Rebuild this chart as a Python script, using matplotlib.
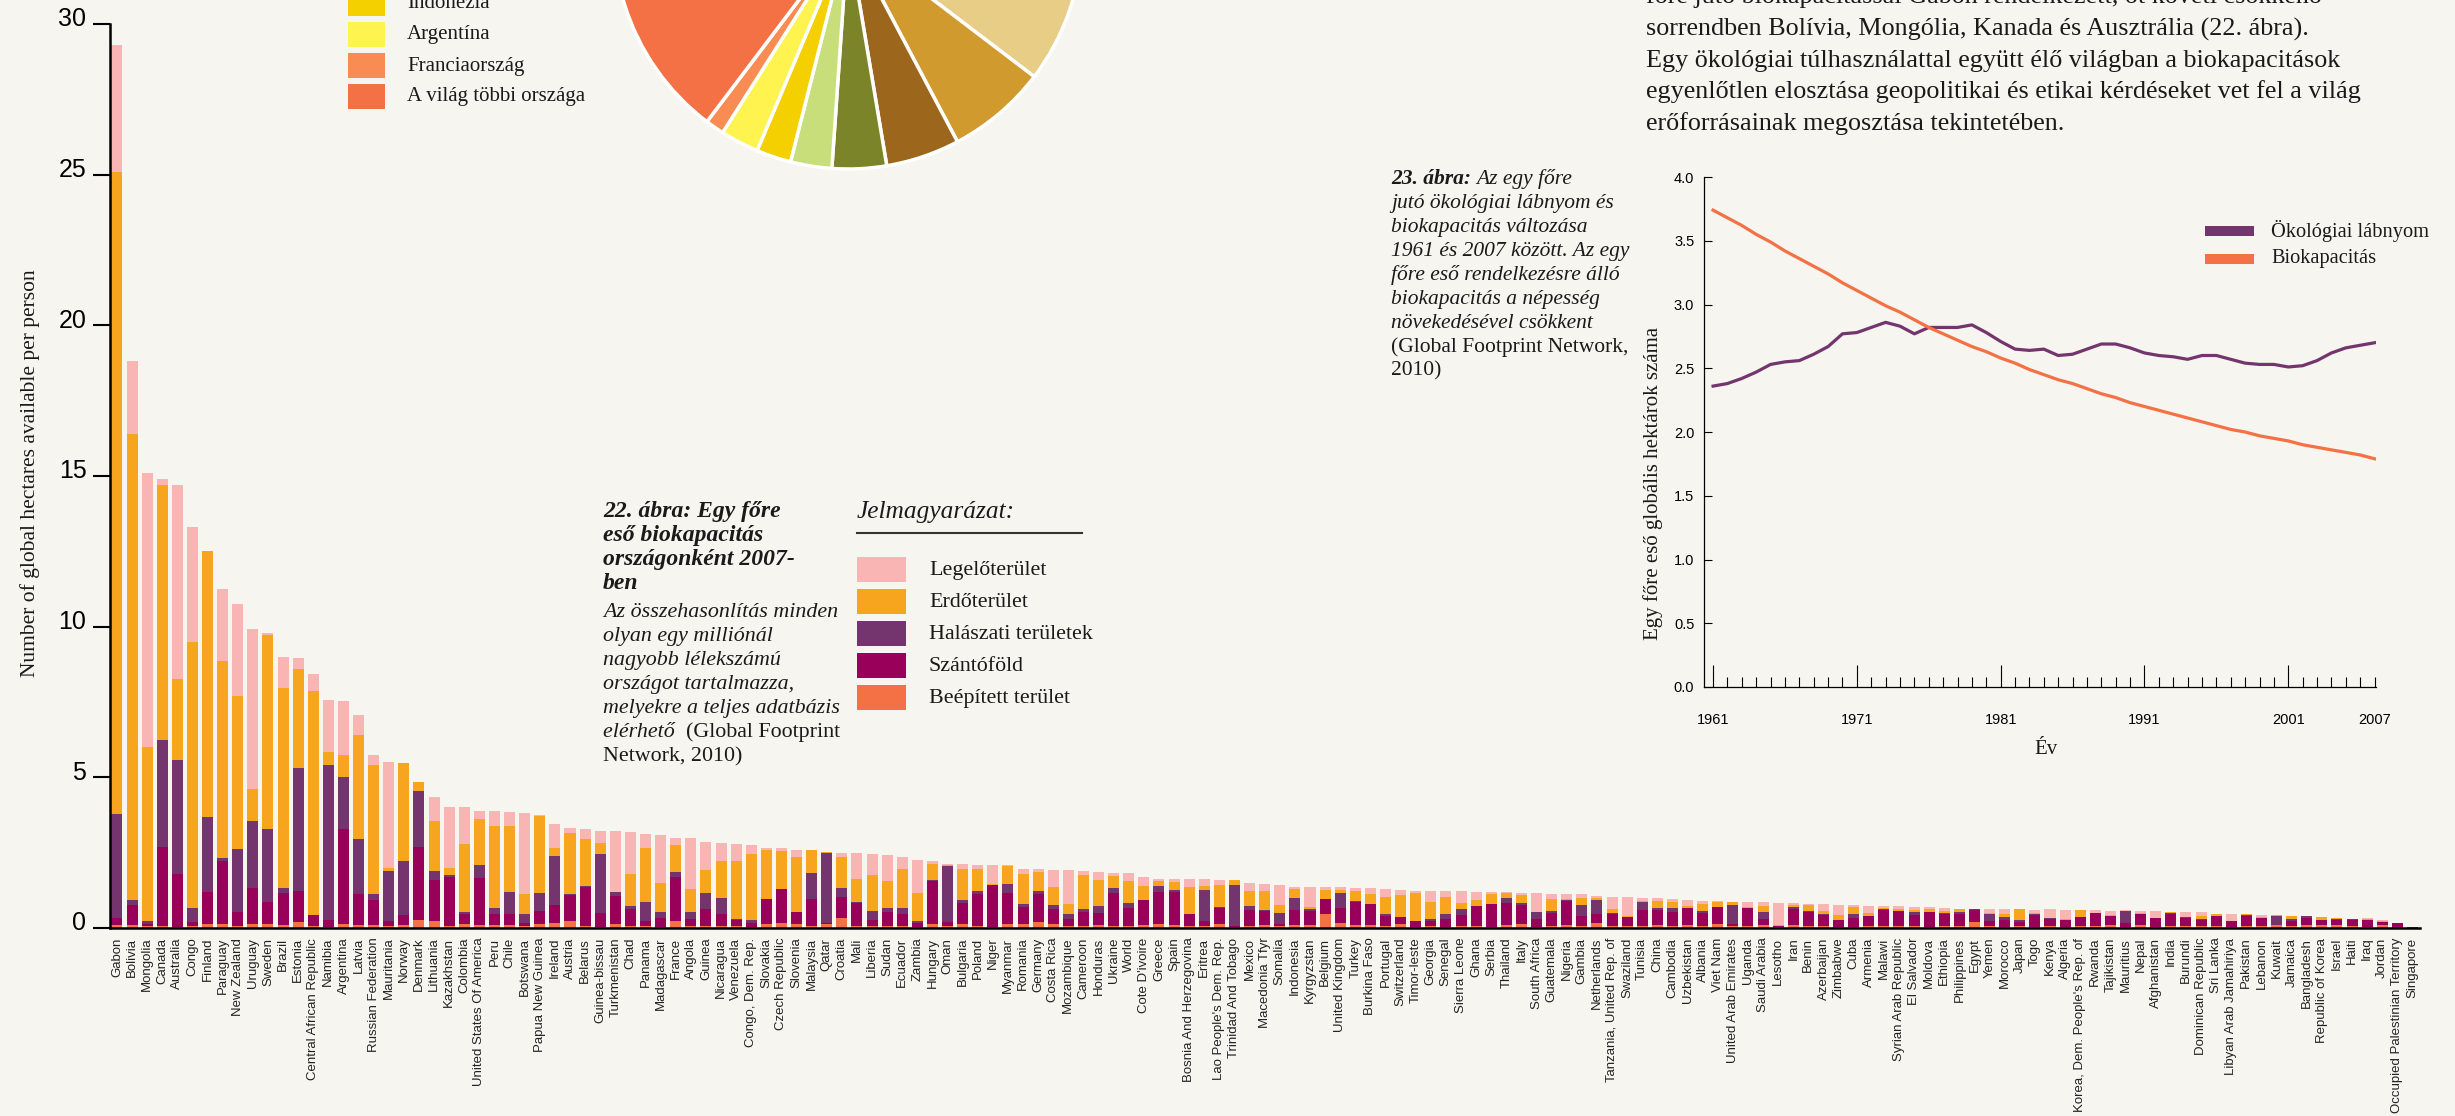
import numpy as np
import matplotlib
matplotlib.use('Agg')
import matplotlib.pyplot as plt
from matplotlib.patches import Rectangle
from matplotlib.ticker import FixedLocator
from matplotlib.transforms import ScaledTranslation

W, H = 2455, 1116
BG = '#f6f5ef'
INK = '#1a1a1a'
SERIF = 'Liberation Serif'
SANS = 'Liberation Sans'

# ---- 22. abra: biocapacity per person by country (tops of the stacked layers)
countries = [
    "Gabon", "Bolivia", "Mongolia", "Canada", "Australia", "Congo", "Finland", "Paraguay",
    "New Zealand", "Uruguay", "Sweden", "Brazil", "Estonia", "Central African Republic",
    "Namibia", "Argentina", "Latvia", "Russian Federation", "Mauritania", "Norway", "Denmark",
    "Lithuania", "Kazakhstan", "Colombia", "United States Of America", "Peru", "Chile",
    "Botswana", "Papua New Guinea", "Ireland", "Austria", "Belarus", "Guinea-bissau",
    "Turkmenistan", "Chad", "Panama", "Madagascar", "France", "Angola", "Guinea", "Nicaragua",
    "Venezuela", "Congo, Dem. Rep.", "Slovakia", "Czech Republic", "Slovenia", "Malaysia",
    "Qatar", "Croatia", "Mali", "Liberia", "Sudan", "Ecuador", "Zambia", "Hungary", "Oman",
    "Bulgaria", "Poland", "Niger", "Myanmar", "Romania", "Germany", "Costa Rica", "Mozambique",
    "Cameroon", "Honduras", "Ukraine", "World", "Cote D'ivoire", "Greece", "Spain",
    "Bosnia And Herzegovina", "Eritrea", "Lao People's Dem. Rep.", "Trinidad And Tobago",
    "Mexico", "Macedonia Tfyr", "Somalia", "Indonesia", "Kyrgyzstan", "Belgium",
    "United Kingdom", "Turkey", "Burkina Faso", "Portugal", "Switzerland", "Timor-leste",
    "Georgia", "Senegal", "Sierra Leone", "Ghana", "Serbia", "Thailand", "Italy",
    "South Africa", "Guatemala", "Nigeria", "Gambia", "Netherlands", "Tanzania, United Rep. of",
    "Swaziland", "Tunisia", "China", "Cambodia", "Uzbekistan", "Albania", "Viet Nam",
    "United Arab Emirates", "Uganda", "Saudi Arabia", "Lesotho", "Iran", "Benin", "Azerbaijan",
    "Zimbabwe", "Cuba", "Armenia", "Malawi", "Syrian Arab Republic", "El Salvador", "Moldova",
    "Ethiopia", "Philippines", "Egypt", "Yemen", "Morocco", "Japan", "Togo", "Kenya", "Algeria",
    "Korea, Dem. People's Rep. of", "Rwanda", "Tajikistan", "Mauritius", "Nepal", "Afghanistan",
    "India", "Burundi", "Dominican Republic", "Sri Lanka", "Libyan Arab Jamahiriya", "Pakistan",
    "Lebanon", "Kuwait", "Jamaica", "Bangladesh", "Republic of Korea", "Israel", "Haiti", "Iraq",
    "Jordan", "Occupied Palestinian Territory", "Singapore",
]

built_top = [
    0.1, 0.1, 0.05, 0.05, 0.03, 0.07, 0.12, 0.12, 0.05, 0.12, 0.12, 0.1, 0.19, 0.05, 0.03, 0.12,
    0.1, 0.1, 0.05, 0.1, 0.28, 0.24, 0.07, 0.12, 0.1, 0.1, 0.1, 0.05, 0.14, 0.17, 0.23, 0.08,
    0.04, 0.14, 0.08, 0.05, 0.04, 0.23, 0.05, 0.08, 0.05, 0.05, 0.04, 0.14, 0.17, 0.14, 0.08,
    0.12, 0.34, 0.08, 0.05, 0.05, 0.08, 0.04, 0.14, 0.08, 0.12, 0.08, 0.04, 0.12, 0.12, 0.19,
    0.12, 0.06, 0.06, 0.09, 0.06, 0.06, 0.09, 0.12, 0.09, 0.06, 0.06, 0.12, 0.03, 0.06, 0.09,
    0.06, 0.09, 0.09, 0.45, 0.16, 0.09, 0.09, 0.06, 0.12, 0.03, 0.06, 0.03, 0.07, 0.07, 0.02,
    0.1, 0.13, 0.03, 0.07, 0.1, 0.07, 0.17, 0.07, 0.07, 0.07, 0.1, 0.07, 0.1, 0.07, 0.13, 0.07,
    0.07, 0.1, 0.03, 0.1, 0.07, 0.07, 0.03, 0.03, 0.07, 0.07, 0.07, 0.07, 0.03, 0.07, 0.07,
    0.19, 0.07, 0.03, 0.07, 0.03, 0.07, 0.03, 0.07, 0.07, 0.1, 0.03, 0.1, 0.03, 0.07, 0.07,
    0.07, 0.07, 0.03, 0.07, 0.07, 0.1, 0.07, 0.1, 0.1, 0.1, 0.07, 0.03, 0.1, 0.01, 0.01,
]
crop_top = [
    0.33, 0.75, 0.12, 2.69, 1.79, 0.19, 1.18, 2.24, 0.52, 1.32, 0.85, 1.16, 1.23, 0.42, 0.26,
    3.3, 1.13, 0.92, 0.24, 0.42, 2.69, 1.58, 1.7, 0.45, 1.65, 0.45, 0.45, 0.17, 0.57, 0.77,
    1.11, 1.36, 0.51, 1.07, 0.64, 0.23, 0.34, 1.7, 0.29, 0.64, 0.47, 0.25, 0.18, 0.97, 1.31,
    0.54, 0.97, 0.17, 1.03, 0.84, 0.27, 0.54, 0.47, 0.17, 1.57, 0.21, 0.84, 1.14, 1.42, 1.16,
    0.7, 1.12, 0.62, 0.29, 0.52, 0.49, 1.15, 0.65, 0.92, 1.18, 1.18, 0.45, 0.22, 0.65, 0.06,
    0.59, 0.55, 0.12, 0.59, 0.55, 0.95, 0.65, 0.85, 0.79, 0.39, 0.35, 0.22, 0.22, 0.29, 0.43,
    0.72, 0.8, 0.83, 0.76, 0.3, 0.5, 0.91, 0.4, 0.47, 0.47, 0.37, 0.6, 0.6, 0.53, 0.66, 0.5,
    0.7, 0.13, 0.66, 0.3, 0.07, 0.63, 0.54, 0.43, 0.27, 0.33, 0.4, 0.6, 0.56, 0.43, 0.52, 0.45,
    0.45, 0.6, 0.22, 0.25, 0.19, 0.43, 0.3, 0.25, 0.35, 0.49, 0.39, 0.16, 0.45, 0.32, 0.47,
    0.33, 0.28, 0.39, 0.22, 0.4, 0.32, 0.1, 0.23, 0.32, 0.25, 0.27, 0.27, 0.25, 0.19, 0.16, 0.01,
]
fish_top = [
    3.77, 0.94, 0.24, 6.25, 5.57, 0.68, 3.7, 2.31, 2.62, 3.56, 3.28, 1.32, 5.31, 0.43, 5.42,
    5.0, 2.97, 1.13, 1.89, 2.22, 4.53, 1.89, 1.75, 0.52, 2.08, 0.68, 1.18, 0.48, 1.17, 2.4,
    1.12, 1.38, 2.47, 1.2, 0.74, 0.87, 0.54, 1.87, 0.54, 1.17, 1.0, 0.31, 0.25, 0.97, 1.31,
    0.54, 1.84, 2.49, 1.33, 0.87, 0.57, 0.67, 0.67, 0.22, 1.59, 2.06, 0.94, 1.24, 1.44, 1.45,
    0.79, 1.22, 0.75, 0.45, 0.62, 0.72, 1.32, 0.82, 0.92, 1.38, 1.25, 0.45, 1.25, 0.7, 1.42,
    0.72, 0.59, 0.49, 0.99, 0.62, 0.95, 1.15, 0.89, 0.79, 0.45, 0.35, 0.24, 0.29, 0.45, 0.63,
    0.74, 0.8, 1.0, 0.83, 0.53, 0.56, 0.93, 0.76, 0.93, 0.5, 0.38, 0.86, 0.66, 0.66, 0.66, 0.56,
    0.7, 0.76, 0.66, 0.53, 0.08, 0.7, 0.58, 0.47, 0.27, 0.47, 0.4, 0.63, 0.56, 0.53, 0.52, 0.49,
    0.52, 0.62, 0.45, 0.35, 0.25, 0.45, 0.32, 0.28, 0.35, 0.49, 0.39, 0.56, 0.45, 0.32, 0.49,
    0.35, 0.29, 0.39, 0.23, 0.42, 0.34, 0.39, 0.29, 0.39, 0.25, 0.29, 0.29, 0.25, 0.2, 0.16, 0.03,
]
forest_top = [
    25.1, 16.4, 6.0, 14.7, 8.25, 9.48, 12.5, 8.87, 7.69, 4.6, 9.72, 7.95, 8.58, 7.85, 5.83,
    5.75, 6.42, 5.42, 1.98, 5.47, 4.86, 3.56, 1.98, 2.78, 3.61, 3.37, 3.37, 1.14, 3.72, 2.66,
    3.16, 2.96, 2.83, 1.2, 1.8, 2.64, 1.48, 2.77, 1.31, 1.93, 2.23, 2.21, 2.47, 2.6, 2.57, 2.36,
    2.6, 2.52, 2.36, 1.63, 1.76, 1.57, 1.97, 1.17, 2.13, 2.09, 1.97, 1.97, 1.45, 2.05, 1.78,
    1.85, 1.35, 0.79, 1.75, 1.58, 1.72, 1.55, 1.38, 1.55, 1.52, 1.35, 1.38, 1.42, 1.58, 1.22,
    1.22, 0.75, 1.28, 0.69, 1.25, 1.25, 1.22, 1.12, 1.02, 1.09, 1.15, 0.85, 1.02, 0.83, 0.93,
    1.13, 1.16, 1.1, 0.53, 0.96, 0.96, 1.0, 1.0, 0.63, 0.4, 0.91, 0.9, 0.86, 0.73, 0.8, 0.86,
    0.86, 0.7, 0.73, 0.1, 0.76, 0.76, 0.56, 0.43, 0.7, 0.5, 0.66, 0.64, 0.6, 0.62, 0.55, 0.62,
    0.64, 0.49, 0.45, 0.62, 0.49, 0.32, 0.3, 0.59, 0.49, 0.42, 0.58, 0.51, 0.32, 0.52, 0.35,
    0.39, 0.45, 0.23, 0.45, 0.35, 0.42, 0.39, 0.39, 0.35, 0.32, 0.3, 0.3, 0.23, 0.16, 0.03,
]
grazing_top = [
    29.3, 18.8, 15.1, 14.9, 14.7, 13.3, 12.5, 11.25, 10.75, 9.93, 9.79, 9.0, 8.96, 8.44, 7.57,
    7.52, 7.08, 5.75, 5.5, 5.47, 4.86, 4.36, 4.03, 4.01, 3.87, 3.87, 3.84, 3.83, 3.76, 3.46,
    3.33, 3.3, 3.22, 3.22, 3.2, 3.13, 3.07, 3.0, 3.0, 2.86, 2.83, 2.79, 2.77, 2.66, 2.66, 2.6,
    2.6, 2.52, 2.49, 2.49, 2.47, 2.43, 2.34, 2.27, 2.23, 2.11, 2.13, 2.1, 2.1, 2.08, 1.95, 1.95,
    1.92, 1.92, 1.88, 1.85, 1.82, 1.82, 1.68, 1.62, 1.62, 1.62, 1.62, 1.58, 1.58, 1.48, 1.45,
    1.42, 1.35, 1.35, 1.35, 1.35, 1.32, 1.32, 1.28, 1.25, 1.22, 1.22, 1.22, 1.22, 1.2, 1.2,
    1.2, 1.16, 1.16, 1.13, 1.13, 1.13, 1.06, 1.03, 1.03, 1.0, 1.0, 0.96, 0.93, 0.9, 0.9, 0.86,
    0.86, 0.86, 0.83, 0.83, 0.8, 0.8, 0.76, 0.76, 0.73, 0.73, 0.73, 0.7, 0.69, 0.65, 0.62,
    0.64, 0.62, 0.62, 0.62, 0.59, 0.62, 0.59, 0.59, 0.59, 0.55, 0.59, 0.55, 0.55, 0.52, 0.52,
    0.52, 0.45, 0.45, 0.45, 0.42, 0.42, 0.39, 0.39, 0.35, 0.32, 0.31, 0.32, 0.25, 0.16, 0.03,
]
layer_names = ["Beépített terület", "Szántóföld", "Halászati területek", "Erdőterület", "Legelőterület"]
layer_colors = ['#f37144', '#99005a', '#74356f', '#f7a51f', '#f9b5b3']

# ---- pie (global biocapacity share, only the lower part is on the page)
pie_labels = ["Brazília", "Kína", "Egyesült Államok", "Oroszország", "India", "Kanada",
              "Ausztrália", "Indonézia", "Argentína", "Franciaország", "A világ többi országa"]
pie_share = [15.4, 9.9, 10.05, 6.9, 5.1, 3.75, 2.85, 2.4, 2.65, 1.3, 39.7]
pie_colors = ['#b7772a', '#d8b46a', '#e8cd87', '#d09a2e', '#9c661d', '#7c8429',
              '#c8de7a', '#f5d000', '#fff350', '#f88c52', '#f37144']

# ---- 23. abra: footprint vs biocapacity per person
years = list(range(1961, 2008))
footprint = [2.36, 2.38, 2.42, 2.47, 2.53, 2.55, 2.56, 2.61, 2.67, 2.77, 2.78, 2.82, 2.86, 2.83,
             2.77, 2.82, 2.82, 2.82, 2.84, 2.78, 2.71, 2.65, 2.64, 2.65, 2.60, 2.61, 2.65, 2.69,
             2.69, 2.66, 2.62, 2.60, 2.59, 2.57, 2.60, 2.60, 2.57, 2.54, 2.53, 2.53, 2.51, 2.52,
             2.56, 2.62, 2.66, 2.68, 2.70]
biocapacity = [3.74, 3.68, 3.62, 3.55, 3.49, 3.42, 3.36, 3.30, 3.24, 3.17, 3.11, 3.05, 2.99,
               2.94, 2.88, 2.82, 2.77, 2.72, 2.67, 2.63, 2.58, 2.54, 2.49, 2.45, 2.41, 2.38,
               2.34, 2.30, 2.27, 2.23, 2.20, 2.17, 2.14, 2.11, 2.08, 2.05, 2.02, 2.00, 1.97,
               1.95, 1.93, 1.90, 1.88, 1.86, 1.84, 1.82, 1.79]


def rect(x0, y0, x1, y1):
    """pixel box of the page (y down) -> figure fraction"""
    return [x0 / W, 1 - y1 / H, (x1 - x0) / W, (y1 - y0) / H]


fig = plt.figure(figsize=(W / 100, H / 100), dpi=100, facecolor=BG)

# ---------------- main stacked bars
ax = fig.add_axes(rect(110, 24, 2420, 928))
ax.set_facecolor('none')
xpos = np.arange(len(countries))
tops = [built_top, crop_top, fish_top, forest_top, grazing_top]
bottom = np.zeros(len(countries))
for top, color in zip(tops, layer_colors):
    top = np.array(top)
    ax.bar(xpos, top - bottom, bottom=bottom, width=0.73, color=color, linewidth=0)
    bottom = top

ax.set_xlim(-0.46, 152.5)
ax.set_ylim(0, 30)
for s in ['top', 'right']:
    ax.spines[s].set_visible(False)
for s in ['left', 'bottom']:
    ax.spines[s].set_linewidth(1.8)
    ax.spines[s].set_color('black')
ax.set_yticks(range(0, 31, 5))
ax.tick_params(axis='y', direction='out', length=12, width=1.5, labelsize=18, pad=5)
for lab in ax.get_yticklabels():
    lab.set_fontfamily(SANS)
    lab.set_transform(lab.get_transform() + ScaledTranslation(0, 0.07, fig.dpi_scale_trans))
ax.set_xticks(xpos)
ax.set_xticklabels(countries, rotation=90, fontsize=9.5, family=SANS, color='#222222')
ax.tick_params(axis='x', length=0, pad=7)

# ---------------- pie, cut by the top of the page
pax = fig.add_axes(rect(600, 0, 1100, 180))
pax.pie(pie_share, colors=pie_colors, startangle=90, counterclock=False,
        center=(848, H + 65), radius=234,
        wedgeprops=dict(edgecolor='white', linewidth=2.5))
pax.set_xlim(600, 1100)
pax.set_ylim(H - 180, H)
pax.set_aspect('auto')
pax.axis('off')

# ---------------- inset line chart
lax = fig.add_axes(rect(1704, 177, 2376, 687))
lax.set_facecolor('none')
lax.plot(years, footprint, color='#74356f', lw=2.3)
lax.plot(years, biocapacity, color='#f37144', lw=2.3)
lax.set_xlim(1960.37, 2007.1)
lax.set_ylim(0, 4.0)
for s in ['top', 'right']:
    lax.spines[s].set_visible(False)
for s in ['left', 'bottom']:
    lax.spines[s].set_linewidth(0.9)
lax.set_yticks(np.arange(0, 4.01, 0.5))
lax.set_yticklabels([f'{v:.1f}' for v in np.arange(0, 4.01, 0.5)])
lax.tick_params(axis='y', direction='in', length=6, width=0.8, labelsize=10.5, pad=7)
lax.set_xticks([1961, 1971, 1981, 1991, 2001, 2007])
lax.xaxis.set_minor_locator(FixedLocator(years))
lax.tick_params(axis='x', which='major', direction='in', length=16, width=0.8,
                labelsize=10.5, pad=19)
lax.tick_params(axis='x', which='minor', direction='in', length=7, width=0.8)
lax.xaxis.get_major_ticks()[-1].tick1line.set_markersize(7)
for lab in lax.get_xticklabels() + lax.get_yticklabels():
    lab.set_fontfamily(SANS)

# ---------------- page texts / legends (canvas in page pixels)
cv = fig.add_axes([0, 0, 1, 1], zorder=10)
cv.set_xlim(0, W)
cv.set_ylim(H, 0)
cv.axis('off')
renderer = fig.canvas.get_renderer()


def line_parts(x, y, parts, size):
    for txt, style, weight in parts:
        t = cv.text(x, y, txt, fontsize=size, family=SERIF, style=style,
                    weight=weight, color=INK, va='baseline', ha='left')
        x += t.get_window_extent(renderer=renderer).width


# y label of main chart
cv.text(30, 473, 'Number of global hectares available per person', rotation=90,
        ha='center', va='center', fontsize=15.5, family=SERIF, color=INK)

# pie legend (last items visible)
n = len(pie_labels)
for i, (lab, col) in enumerate(zip(pie_labels, pie_colors)):
    top = 84 - 31 * (n - 1 - i)
    cv.add_patch(Rectangle((348, top), 37, 25, color=col, lw=0))
    cv.text(407, top + 13, lab, fontsize=15, family=SERIF, color=INK, va='center')

# caption 22
for txt, yb in [('22. ábra: Egy főre', 516.7), ('eső biokapacitás', 540.7),
                ('országonként 2007-', 564.7), ('ben', 588.7)]:
    cv.text(603, yb, txt, fontsize=17, family=SERIF, style='italic', weight='bold',
            color=INK, va='baseline')
for txt, yb in [('Az összehasonlítás minden', 616.7), ('olyan egy milliónál', 640.7),
                ('nagyobb lélekszámú', 664.7), ('országot tartalmazza,', 688.7),
                ('melyekre a teljes adatbázis', 712.7)]:
    cv.text(603, yb, txt, fontsize=15.8, family=SERIF, style='italic', color=INK, va='baseline')
line_parts(603, 737, [('elérhető  ', 'italic', 'normal'),
                      ('(Global Footprint', 'normal', 'normal')], 15.8)
cv.text(603, 761, 'Network, 2010)', fontsize=15.8, family=SERIF, color=INK, va='baseline')

# bar legend
cv.text(857, 518, 'Jelmagyarázat:', fontsize=18.3, family=SERIF, style='italic',
        color=INK, va='baseline')
cv.plot([857, 1082], [533, 533], color='#333333', lw=1.5)
for i, name in enumerate(reversed(layer_names)):
    col = list(reversed(layer_colors))[i]
    top = 557 + 32 * i
    cv.add_patch(Rectangle((857, top), 49, 25, color=col, lw=0))
    cv.text(929, top + 13.5, name, fontsize=15.8, family=SERIF, color=INK, va='center')

# top right paragraph
para = ['főre jutó biokapacitással Gabon rendelkezett, őt követi csökkenő',
        'sorrendben Bolívia, Mongólia, Kanada és Ausztrália (22. ábra).',
        'Egy ökológiai túlhasználattal együtt élő világban a biokapacitások',
        'egyenlőtlen elosztása geopolitikai és etikai kérdéseket vet fel a világ',
        'erőforrásainak megosztása tekintetében.']
for i, txt in enumerate(para):
    cv.text(1646, 3.5 + 31.6 * i, txt, fontsize=18.8, family=SERIF, color=INK, va='baseline')

# caption 23
line_parts(1391, 183.6, [('23. ábra: ', 'italic', 'bold'), ('Az egy főre', 'italic', 'normal')], 15.5)
cap23 = ['jutó ökológiai lábnyom és', 'biokapacitás változása', '1961 és 2007 között. Az egy',
         'főre eső rendelkezésre álló', 'biokapacitás a népesség', 'növekedésével csökkent']
for i, txt in enumerate(cap23):
    cv.text(1391, 207.6 + 24 * i, txt, fontsize=15.5, family=SERIF, style='italic',
            color=INK, va='baseline')
cv.text(1391, 351.6, '(Global Footprint Network,', fontsize=15.5, family=SERIF, color=INK,
        va='baseline')
cv.text(1391, 375.6, '2010)', fontsize=15.5, family=SERIF, color=INK, va='baseline')

# inset labels & legend
cv.text(1653, 483, 'Egy főre eső globális hektárok száma', rotation=90, ha='center',
        va='center', fontsize=15, family=SERIF, color=INK)
cv.text(2046, 749, 'Év', ha='center', va='center', fontsize=15, family=SERIF, color=INK)
for i, (name, col) in enumerate([('Ökológiai lábnyom', '#74356f'), ('Biokapacitás', '#f37144')]):
    yc = 231 + 28 * i
    cv.add_patch(Rectangle((2205, yc - 5), 49, 10, color=col, lw=0))
    cv.text(2271, yc, name, fontsize=14.7, family=SERIF, color=INK, va='center')

fig.savefig('out.png', dpi=100, facecolor=BG)
